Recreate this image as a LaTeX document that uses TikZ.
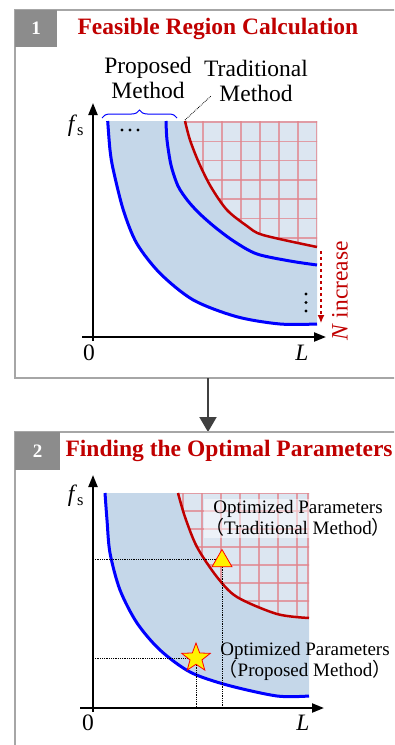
\documentclass[tikz,border=0pt]{standalone}
\usepackage{fontspec}
\setmainfont{Liberation Serif}
\newfontfamily\cjk{Noto Sans CJK SC}
\usetikzlibrary{arrows.meta, positioning, shapes.geometric, decorations.pathreplacing}

\definecolor{titlered}{HTML}{C00000}
\definecolor{framegray}{HTML}{A6A6A6}
\definecolor{numgray}{HTML}{8C8C8C}
\definecolor{arrowgray}{HTML}{404040}
\definecolor{regionblue}{HTML}{C5D7E9}
\definecolor{gridbg}{HTML}{DCE6F1}
\definecolor{gridred}{HTML}{E2848C}

\newcommand{\lp}{{\cjk （}}
\newcommand{\rp}{{\cjk ）}}

\begin{document}
\begin{tikzpicture}[
  x=1pt, y=-1pt, >=Latex,
  frame/.style    = {draw=framegray, line width=1.5pt},
  numbox/.style   = {fill=numgray, text=white, inner sep=0pt,
                     font=\fontsize{19}{19}\selectfont\bfseries},
  title/.style    = {text=titlered, inner sep=0pt,
                     font=\fontsize{23.5}{24}\selectfont\bfseries},
  lbl/.style      = {font=\fontsize{23.5}{25}\selectfont, align=center, inner sep=0pt},
  optlbl/.style   = {font=\fontsize{19}{21}\selectfont, align=center, inner sep=1.5pt},
  axis/.style     = {-{Triangle[width=9pt,length=12pt]}, line width=2.2pt},
  propcurve/.style= {draw=blue, line width=3pt, line join=round},
  tradcurve/.style= {draw=titlered, line width=2.5pt, line join=round},
  gridline/.style = {draw=gridred, line width=1.5pt, opacity=0.75},
  guide/.style    = {densely dotted, line width=0.8pt},
  dot/.style      = {circle, fill=black, inner sep=0pt, minimum size=3.4pt},
]
  \useasboundingbox (0,0) rectangle (394,745);
  \clip (0,0) rectangle (394,745);

  % ---------------- panel 1 ----------------
  \draw[frame] (15,10) rectangle (430,378);
  \node[numbox, minimum width=42pt, minimum height=37pt, anchor=north west] (num1) at (15,10) {1};
  \node[title, right=20pt of num1] (title1) {Feasible Region Calculation};

  % feasible region
  \fill[regionblue] plot[smooth, tension=0.5] coordinates {(107.7,121) (110,150) (113.3,170)
      (123.3,210) (136.7,243.3) (160,273.3) (193.3,300) (236.7,316.7) (280,324) (317,324)}
      -- (317,121) -- cycle;
  % traditional region with grid
  \begin{scope}
    \clip plot[smooth, tension=0.5] coordinates {(185,121) (190,140) (199,163) (211,187)
        (227,210) (247,226) (263,235) (317,247)} -- (317,121) -- cycle;
    \fill[gridbg] (180,115) rectangle (320,250);
    \foreach \gx in {0,...,7}
      \draw[gridline] (184+19*\gx,115) -- (184+19*\gx,250);
    \foreach \gy in {0,...,6}
      \draw[gridline] (180,122+19.3*\gy) -- (320,122+19.3*\gy);
  \end{scope}

  \draw[propcurve] plot[smooth, tension=0.5] coordinates {(107.7,121) (110,150) (113.3,170)
      (123.3,210) (136.7,243.3) (160,273.3) (193.3,300) (236.7,316.7) (280,324) (317,324)};
  \draw[propcurve] plot[smooth, tension=0.5] coordinates {(166,121) (167,140) (171,165)
      (178,186) (188,201) (200,214) (216,228) (235,242) (257,254) (290,261) (317,265)};
  \draw[tradcurve] plot[smooth, tension=0.5] coordinates {(185,121) (190,140) (199,163) (211,187)
      (227,210) (247,226) (263,235) (317,247)};

  % axes
  \coordinate (o1) at (93,337);
  \draw[axis] (93,341) -- (93,103);
  \draw[axis] (82,337) -- (326,337);
  \node[lbl] (zero1) at (89,353) {0};
  \node[lbl] (L1) at (302,353) {\textit{L}};
  \node[lbl] (fs1) at (76,126) {\textit{f}\textsubscript{s}};

  % dots
  \foreach \dx in {122,130,138}
    \node[dot] at (\dx,130) {};
  \foreach \dy in {294,302.5,311}
    \node[dot] at (306,\dy) {};

  % labels
  \draw[blue, line width=1pt, decorate, decoration={brace, amplitude=8pt}]
      (102,118) -- (177,118);
  \node[lbl] (proplbl) at (148,77.5) {Proposed\\Method};
  \node[lbl] (tradlbl) at (256,80.5) {Traditional\\Method};
  \coordinate (tradtop) at (185,120);
  \coordinate (tradtip) at (211,96);
  \draw[densely dotted, line width=0.8pt] (tradtop) -- (tradtip);

  % N increase
  \coordinate (nstart) at (321,251);
  \coordinate (nend) at (321,323);
  \draw[titlered, dashed, line width=1.2pt, -{Latex[length=8pt,width=7pt]}] (nstart) -- (nend);
  \node[lbl, text=titlered, rotate=90] (nlbl) at (340,291) {\textit{N} increase};

  % ---------------- arrow ----------------
  \coordinate (p1s) at (208,378);
  \coordinate (p2n) at (208,432);
  \draw[arrowgray, line width=2pt, -{Triangle[width=17pt,length=15pt]}] (p1s) -- (p2n);

  % ---------------- panel 2 ----------------
  \draw[frame] (15,432) rectangle (430,790);
  \node[numbox, minimum width=45pt, minimum height=38pt, anchor=north west] (num2) at (15,432) {2};
  \node[title, right=5pt of num2] (title2) {Finding the Optimal Parameters};

  \fill[regionblue] plot[smooth, tension=0.5] coordinates {(105,493) (107,520) (110,553)
      (120,590) (137,623) (160,650) (190,672) (227,685) (277,696) (309,696)}
      -- (309,493) -- cycle;
  \begin{scope}
    \clip plot[smooth, tension=0.5] coordinates {(178,493) (185,517) (197,547) (217,577)
        (237,597) (277,614) (309,618)} -- (309,493) -- cycle;
    \fill[gridbg] (175,490) rectangle (312,620);
    \foreach \gx in {183,202,221,240,259,278,297,308}
      \draw[gridline] (\gx,490) -- (\gx,620);
    \foreach \gy in {0,...,7}
      \draw[gridline] (175,493+18*\gy) -- (312,493+18*\gy);
  \end{scope}

  \draw[propcurve] plot[smooth, tension=0.5] coordinates {(105,493) (107,520) (110,553)
      (120,590) (137,623) (160,650) (190,672) (227,685) (277,696) (309,696)};
  \draw[tradcurve] plot[smooth, tension=0.5] coordinates {(178,493) (185,517) (197,547)
      (217,577) (237,597) (277,614) (309,618)};

  % axes
  \coordinate (o2) at (93,708);
  \draw[axis] (93,712) -- (93,475);
  \draw[axis] (80,708) -- (324,708);
  \node[lbl] (zero2) at (88,723) {0};
  \node[lbl] (L2) at (303,723) {\textit{L}};
  \node[lbl] (fs2) at (76,496) {\textit{f}\textsubscript{s}};

  % optimal points
  \coordinate (tri) at (222,559);
  \coordinate (stp) at (196,658);
  \draw[guide] (tri -| o2) -- (tri) -- (tri |- o2);
  \draw[guide] (stp -| o2) -- (stp) -- (stp |- o2);

  \node[optlbl, fill=white, fill opacity=0.5, text opacity=1] (optT) at (298,518)
      {Optimized Parameters\\\lp Traditional Method\rp};
  \node[optlbl] (optP) at (305,661)
      {Optimized Parameters\\\lp Proposed Method\rp};

  \node[regular polygon, regular polygon sides=3, fill=yellow, draw=red, line width=0.8pt,
        minimum size=23pt, inner sep=0pt, yshift=-2pt] (triP) at (tri) {};
  \node[star, star points=5, star point ratio=2.4, fill=yellow, draw=red, line width=0.8pt,
        minimum size=30pt, inner sep=0pt] (starP) at (stp) {};
\end{tikzpicture}
\end{document}
